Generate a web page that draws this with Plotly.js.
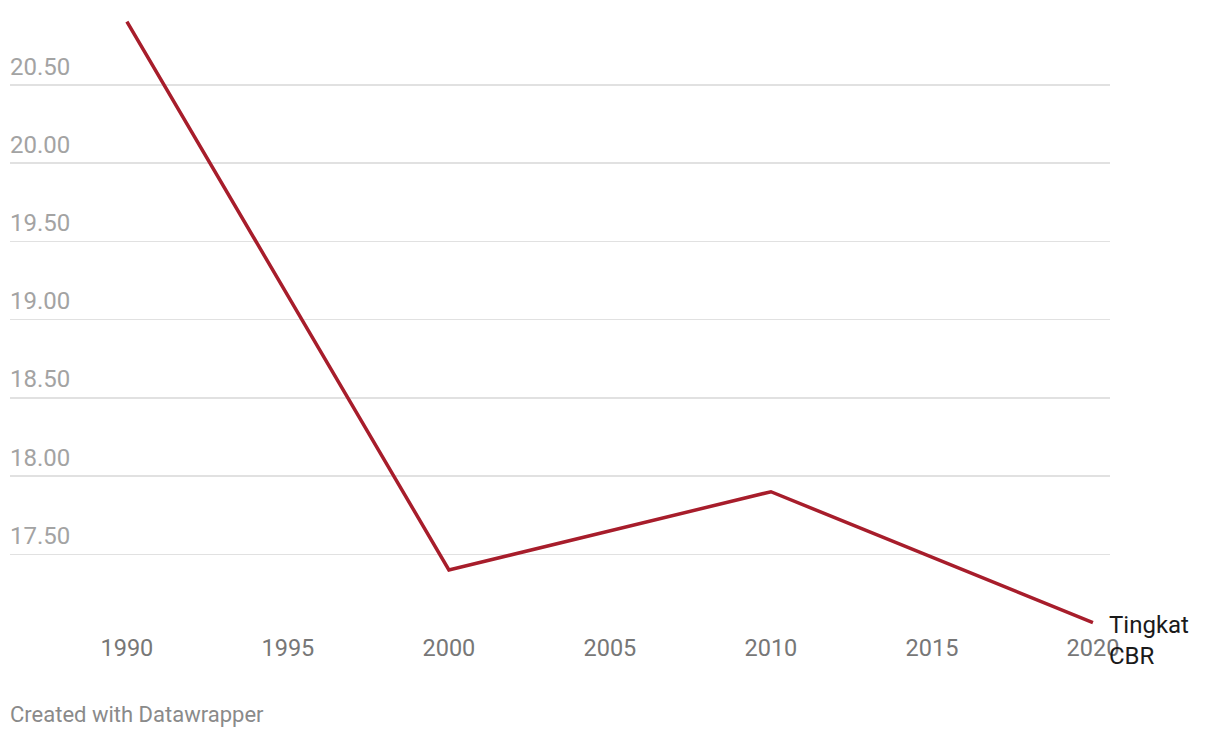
<!DOCTYPE html>
<html>
<head>
<meta charset="utf-8">
<script src="https://cdn.plot.ly/plotly-3.0.1.min.js"></script>
<style>html,body{margin:0;padding:0;background:#fff;}#chart{width:1220px;height:738px;}</style>
</head>
<body>
<div id="chart"></div>
<script>
const years = [1990, 2000, 2010, 2020];
const cbr = [20.905, 17.40, 17.90, 17.063];
const seriesName = "Tingkat CBR";
const yTicks = [17.5, 18.0, 18.5, 19.0, 19.5, 20.0, 20.5];
const yTickText = ["17.50", "18.00", "18.50", "19.00", "19.50", "20.00", "20.50"];
const xTicks = [1990, 1995, 2000, 2005, 2010, 2015, 2020];
const footer = "Created with Datawrapper";

const trace = {
  x: years, y: cbr, type: 'scatter', mode: 'lines',
  line: {color: '#a71d2b', width: 3.5},
  cliponaxis: false, hoverinfo: 'skip', showlegend: false
};

const layout = {
  width: 1220, height: 738,
  margin: {l: 10, r: 110, t: 10, b: 108},
  paper_bgcolor: '#ffffff', plot_bgcolor: '#ffffff',
  font: {family: 'Roboto, sans-serif'},
  xaxis: {
    range: [1986.37, 2020.53], tickvals: xTicks, ticktext: xTicks.map(String),
    showgrid: false, zeroline: false, showline: false, ticks: '',
    tickfont: {size: 23.5, color: '#777777'}, ticklabelstandoff: 1, fixedrange: true
  },
  yaxis: {
    range: [17.016, 20.9795], tickvals: yTicks, ticktext: yTickText,
    ticklabelposition: 'inside top', showgrid: true, gridcolor: '#e1e1e1', gridwidth: 1.5,
    zeroline: false, showline: false, ticks: '',
    ticklabelstandoff: -3, ticklabelshift: -2,
    tickfont: {size: 24, color: '#a3a3a3'}, fixedrange: true
  },
  annotations: [
    {x: years[years.length-1], y: cbr[cbr.length-1], xref: 'x', yref: 'y',
     text: 'Tingkat<br>CBR', showarrow: false, xanchor: 'left', yanchor: 'top',
     xshift: 14, yshift: 14, align: 'left', font: {size: 24, color: '#1a1a1a'}},
    {x: 0, y: -0.1355, xref: 'paper', yref: 'paper', text: footer, showarrow: false,
     xanchor: 'left', yanchor: 'middle', xshift: -2, font: {size: 22, color: '#8a8a8a'}}
  ]
};

Plotly.newPlot('chart', [trace], layout, {displayModeBar: false, staticPlot: true});
</script>
</body>
</html>
